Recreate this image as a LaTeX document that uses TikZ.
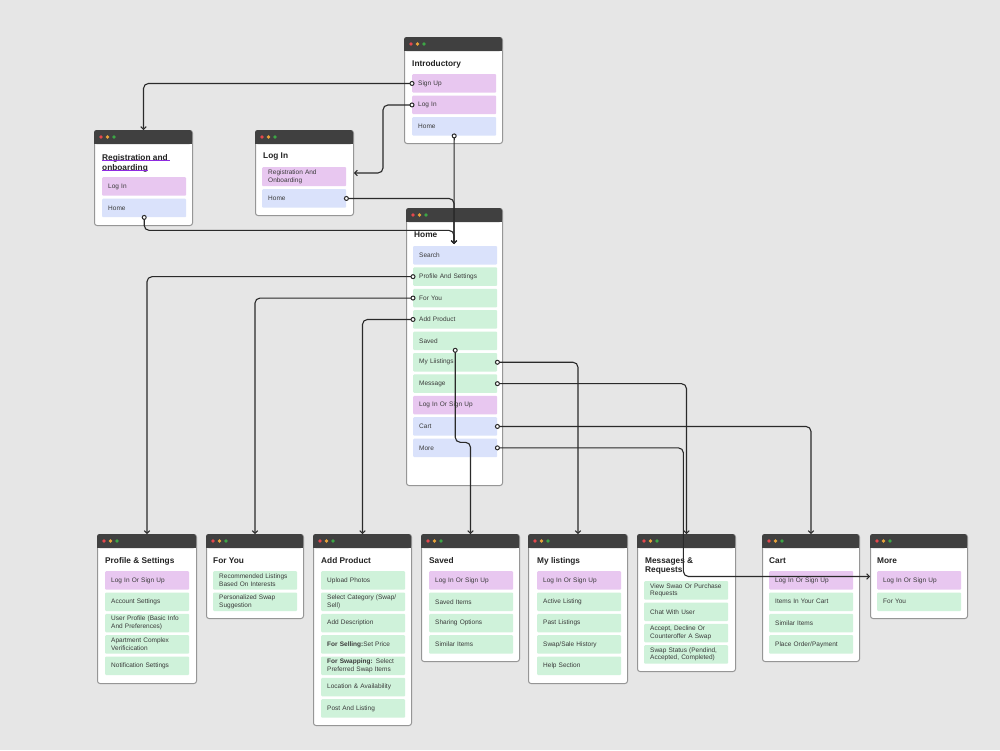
\documentclass[tikz,border=0pt]{standalone}
\usepackage{fontspec}
\setmainfont{Liberation Sans}
\usetikzlibrary{arrows.meta}
\definecolor{bgc}{HTML}{E6E6E6}
\definecolor{pinkc}{HTML}{E8C7F0}
\definecolor{bluec}{HTML}{DAE2FB}
\definecolor{greenc}{HTML}{CFF2DA}
\definecolor{barc}{HTML}{404040}
\definecolor{dotr}{HTML}{E5484D}
\definecolor{doty}{HTML}{E8A33A}
\definecolor{dotg}{HTML}{3CA646}
\definecolor{winb}{HTML}{969696}
\definecolor{itemtxt}{HTML}{3A3A3A}
\definecolor{titletxt}{HTML}{222222}
\definecolor{linec}{HTML}{2A2A2A}
\definecolor{ulc}{HTML}{8E2BE0}
\newcommand\itemfont{\fontsize{6.5}{7.7}\selectfont\hyphenpenalty=10000\exhyphenpenalty=10000}
\newcommand\titlefont{\fontsize{8.3}{9.7}\selectfont\bfseries}
\newcommand\mkwin[5]{%
  \node[win, minimum width=#4pt, minimum height=#5pt] (#1) at (#2,#3) {};
  \fill[barc, rounded corners=2.5pt] (#2,#3) rectangle ++(#4,14);
  \fill[barc] (#2,#3+7) rectangle ++(#4,7);
  \fill[dotr] (#2+7,#3+7) circle (1.9pt);
  \fill[doty] (#2+13.5,#3+7) circle (1.9pt);
  \fill[dotg] (#2+20,#3+7) circle (1.9pt);
}
\begin{document}
\begin{tikzpicture}[x=1pt,y=-1pt,
  win/.style={draw=winb, fill=white, line width=1pt, rounded corners=2.5pt, anchor=north west, inner sep=0pt},
  item/.style={anchor=north west, minimum width=84pt, minimum height=18.5pt, text width=72pt, inner xsep=6pt, inner ysep=1pt, align=left, font=\itemfont, text=itemtxt, rounded corners=1pt},
  pk/.style={item, fill=pinkc},
  bl/.style={item, fill=bluec},
  gr/.style={item, fill=greenc},
  wtitle/.style={anchor=west, inner sep=0pt, font=\titlefont, text=titletxt},
  conn/.style={draw=linec, line width=1.1pt, rounded corners=5pt, -{Straight Barb[length=2.6pt, width=5.5pt]}},
  startdot/.style={draw=linec, fill=white, line width=1pt}
]
\fill[bgc] (0,0) rectangle (1000,750);
\useasboundingbox (0,0) rectangle (1000,750);

% Introductory
\mkwin{introW}{404}{37}{98}{106}
\node[wtitle] (introT) at (412,64) {Introductory};
\node[pk] (introSign) at (412,74) {Sign Up};
\node[pk] (introLog) at (412,95.5) {Log In};
\node[bl] (introHome) at (412,117) {Home};

% Registration
\mkwin{regW}{94}{130}{98}{95}
\node[wtitle, anchor=base west] (regT1) at (102,160) {Registration and};
\node[wtitle, anchor=base west] (regT2) at (102,170) {onboarding};
\draw[ulc, line width=1.5pt] ([yshift=-0.6pt]regT1.base west) -- ([yshift=-0.6pt, xshift=2pt]regT1.base east);
\draw[ulc, line width=1.5pt] ([yshift=-0.6pt]regT2.base west) -- ([yshift=-0.6pt]regT2.base east);
\node[pk] (regLog) at (102,177) {Log In};
\node[bl] (regHome) at (102,198.5) {Home};

% Log In
\mkwin{loginW}{255}{130}{98}{85}
\node[wtitle] (loginT) at (263,157) {Log In};
\node[pk, minimum height=19pt] (loginReg) at (262,167) {Registration And\\Onboarding};
\node[bl] (loginHome) at (262,189) {Home};

% Home
\mkwin{homeW}{406}{208}{96}{277}
\node[wtitle] (homeT) at (414,235) {Home};
\node[bl] (hSearch) at (413,245.8) {Search};
\node[gr] (hProf) at (413,267.2) {Profile And Settings};
\node[gr] (hFY) at (413,288.6) {For You};
\node[gr] (hAdd) at (413,310) {Add Product};
\node[gr] (hSaved) at (413,331.4) {Saved};
\node[gr] (hMyL) at (413,352.8) {My Liistings};
\node[gr] (hMsg) at (413,374.2) {Message};
\node[pk] (hLog) at (413,395.6) {Log In Or Sign Up};
\node[bl] (hCart) at (413,417) {Cart};
\node[bl] (hMore) at (413,438.4) {More};

% Profile & Settings
\mkwin{profW}{97}{534}{99}{149}
\node[wtitle] (profT) at (105,561) {Profile \& Settings};
\node[pk] (p1) at (105,571) {Log In Or Sign Up};
\node[gr] (p2) at (105,592.3) {Account Settings};
\node[gr] (p3) at (105,613.6) {User Profile (Basic Info\\And Preferences)};
\node[gr] (p4) at (105,635) {Apartment Complex\\Verificication};
\node[gr] (p5) at (105,656.3) {Notification Settings};

% For You
\mkwin{fyW}{206}{534}{97}{84}
\node[wtitle] (fyT) at (213,561) {For You};
\node[gr] (f1) at (213,571) {Recommended Listings\\Based On Interests};
\node[gr] (f2) at (213,592.3) {Personalized Swap\\Suggestion};

% Add Product
\mkwin{addW}{313}{534}{98}{191}
\node[wtitle] (addT) at (321,561) {Add Product};
\node[gr] (a1) at (321,571) {Upload Photos};
\node[gr] (a2) at (321,592.3) {Select Category (Swap/\\Sell)};
\node[gr] (a3) at (321,613.6) {Add Description};
\node[gr] (a4) at (321,635) {\textbf{For Selling:}Set Price};
\node[gr] (a5) at (321,656.3) {\textbf{For Swapping:} Select\\Preferred Swap Items};
\node[gr] (a6) at (321,677.6) {Location \& Availability};
\node[gr] (a7) at (321,699) {Post And Listing};

% Saved
\mkwin{savW}{421}{534}{98}{127}
\node[wtitle] (savT) at (429,561) {Saved};
\node[pk] (s1) at (429,571) {Log In Or Sign Up};
\node[gr] (s2) at (429,592.3) {Saved Items};
\node[gr] (s3) at (429,613.6) {Sharing Options};
\node[gr] (s4) at (429,635) {Similar Items};

% My listings
\mkwin{mylW}{528}{534}{99}{149}
\node[wtitle] (mylT) at (537,561) {My listings};
\node[pk] (m1) at (537,571) {Log In Or Sign Up};
\node[gr] (m2) at (537,592.3) {Active Listing};
\node[gr] (m3) at (537,613.6) {Past Listings};
\node[gr] (m4) at (537,635) {Swap/Sale History};
\node[gr] (m5) at (537,656.3) {Help Section};

% Messages & Requests
\mkwin{msgW}{637}{534}{98}{137}
\node[wtitle] (msgT1) at (645,561) {Messages \&};
\node[wtitle] (msgT2) at (645,570.5) {Requests};
\node[gr] (r1) at (644,581) {View Swao Or Purchase\\Requests};
\node[gr] (r2) at (644,602.3) {Chat With User};
\node[gr] (r3) at (644,623.6) {Accept, Decline Or\\Counteroffer A Swap};
\node[gr] (r4) at (644,645) {Swap Status (Pendind,\\Accepted, Completed)};

% Cart
\mkwin{cartW}{762}{534}{97}{127}
\node[wtitle] (cartT) at (769,561) {Cart};
\node[pk] (c1) at (769,571) {Log In Or Sign Up};
\node[gr] (c2) at (769,592.3) {Items In Your Cart};
\node[gr] (c3) at (769,613.6) {Similar Items};
\node[gr] (c4) at (769,635) {Place Order/Payment};

% More
\mkwin{moreW}{870}{534}{97}{84}
\node[wtitle] (moreT) at (877,561) {More};
\node[pk] (o1) at (877,571) {Log In Or Sign Up};
\node[gr] (o2) at (877,592.3) {For You};

% Connectors
\coordinate (homeIn) at (454,244);
\draw[conn] (introSign.west) -| (regW.north);
\draw[conn] (introLog.west) -- ++(-29,0) |- (loginW.east);
\draw[conn] (introHome.south) -- (homeIn);
\draw[conn] (regHome.south) -- ++(0,13) -| (homeIn);
\draw[conn] (loginHome.east) -| (homeIn);
\draw[conn] (hProf.west) -| (profW.north);
\draw[conn] (hFY.west) -| (fyW.north);
\draw[conn] (hAdd.west) -| (addW.north);
\draw[conn] (hSaved.south) -- ++(0,92) -| (savW.north);
\draw[conn] (hMyL.east) -| (mylW.north);
\draw[conn] (hMsg.east) -| (msgW.north);
\draw[conn] (hCart.east) -| (cartW.north);
\draw[conn] (hMore.east) -- ++(186,0) |- (moreW.west);
% start markers
\foreach \s in {introSign.west, introLog.west, introHome.south, regHome.south, loginHome.east, hProf.west, hFY.west, hAdd.west, hSaved.south, hMyL.east, hMsg.east, hCart.east, hMore.east}
  \draw[startdot] (\s) circle (2pt);
\end{tikzpicture}
\end{document}
